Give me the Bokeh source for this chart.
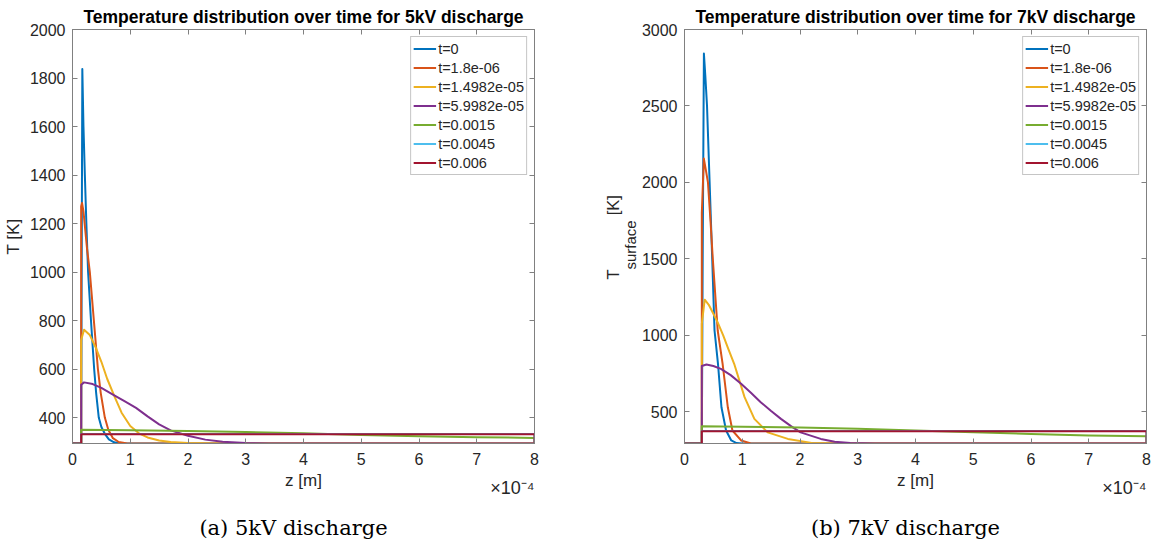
from bokeh.plotting import figure
from bokeh.models import Range1d, LinearAxis, FixedTicker, Legend, LegendItem, Title
from bokeh.layouts import row
from bokeh.embed import file_html
from bokeh.resources import INLINE

# z in units of 1e-4 m (axis shows x10^-4)
legend_labels = ["t=0", "t=1.8e-06", "t=1.4982e-05", "t=5.9982e-05", "t=0.0015", "t=0.0045", "t=0.006"]
colors = ["#0072BD", "#D95319", "#EDB120", "#7E2F8E", "#77AC30", "#4DBEEE", "#A2142F"]

x_ticks = [0, 1, 2, 3, 4, 5, 6, 7, 8]
y_ticks_5kv = [400, 600, 800, 1000, 1200, 1400, 1600, 1800, 2000]
y_ticks_7kv = [500, 1000, 1500, 2000, 2500, 3000]

# ---- 5 kV discharge ----
z5_t0 = [0, 0.15, 0.16, 0.17, 0.19, 0.214, 0.24, 0.27, 0.32, 0.375, 0.41, 0.455, 0.5, 0.56, 0.63, 0.72, 0.8, 0.9, 8]
T5_t0 = [293, 293, 1100, 1837, 1600, 1400, 1200, 1000, 800, 600, 500, 400, 361, 333, 310, 298, 294, 293, 293]
z5_t1 = [0, 0.15, 0.15, 0.165, 0.19, 0.21, 0.25, 0.30, 0.37, 0.44, 0.49, 0.56, 0.62, 0.70, 0.80, 0.95, 8]
T5_t1 = [293, 293, 1270, 1285, 1250, 1200, 1100, 1000, 800, 600, 500, 400, 350, 315, 299, 293, 293]
z5_t2 = [0, 0.15, 0.15, 0.2, 0.3, 0.4, 0.5, 0.6, 0.73, 0.85, 1.0, 1.15, 1.3, 1.5, 1.7, 2.0, 2.4, 8]
T5_t2 = [293, 293, 720, 762, 740, 690, 630, 560, 485, 420, 365, 335, 318, 305, 299, 295, 293, 293]
z5_t3 = [0, 0.15, 0.15, 0.2, 0.35, 0.5, 0.7, 0.9, 1.1, 1.3, 1.5, 1.7, 2.0, 2.3, 2.6, 3.0, 3.4, 8]
T5_t3 = [293, 293, 535, 545, 538, 522, 495, 468, 440, 405, 372, 347, 325, 309, 300, 295, 293, 293]
z5_t4 = [0, 0.15, 0.15, 1, 2, 3, 4, 5, 6, 7, 8, 8]
T5_t4 = [293, 293, 350, 348, 345, 340, 335, 328, 323, 319, 316, 293]
z5_t5 = [0, 0.15, 0.15, 8, 8]
T5_t5 = [293, 293, 332, 332, 293]
z5_t6 = [0, 0.15, 0.15, 8, 8]
T5_t6 = [293, 293, 331, 331, 293]

# ---- 7 kV discharge ----
z7_t0 = [0, 0.30, 0.315, 0.336, 0.36, 0.39, 0.435, 0.48, 0.52, 0.58, 0.64, 0.72, 0.81, 0.9, 1.0, 8]
T7_t0 = [293, 293, 1500, 2843, 2700, 2500, 2000, 1500, 1032, 814, 530, 378, 313, 296, 293, 293]
z7_t1 = [0, 0.30, 0.30, 0.335, 0.37, 0.406, 0.45, 0.49, 0.575, 0.66, 0.75, 0.83, 0.98, 1.15, 8]
T7_t1 = [293, 293, 1800, 2156, 2080, 2000, 1750, 1500, 1032, 814, 530, 378, 313, 293, 293]
z7_t2 = [0, 0.30, 0.30, 0.35, 0.42, 0.5, 0.58, 0.67, 0.76, 0.86, 1.04, 1.21, 1.44, 1.79, 2.2, 2.6, 8]
T7_t2 = [293, 293, 1076, 1233, 1200, 1141, 1080, 1000, 910, 814, 596, 454, 366, 323, 297, 293, 293]
z7_t3 = [0, 0.30, 0.30, 0.38, 0.5, 0.63, 0.8, 0.98, 1.15, 1.32, 1.5, 1.67, 1.85, 2.01, 2.36, 2.6, 2.87, 3.3, 8]
T7_t3 = [293, 293, 800, 810, 800, 781, 740, 683, 625, 563, 505, 454, 405, 366, 323, 305, 297, 293, 293]
z7_t4 = [0, 0.30, 0.30, 1, 2, 3, 4, 5, 6, 7, 8, 8]
T7_t4 = [293, 293, 405, 403, 397, 389, 378, 367, 355, 346, 340, 293]
z7_t5 = [0, 0.30, 0.30, 8, 8]
T7_t5 = [293, 293, 374, 374, 293]
z7_t6 = [0, 0.30, 0.30, 8, 8]
T7_t6 = [293, 293, 373, 373, 293]

series_5kv = [(z5_t0, T5_t0), (z5_t1, T5_t1), (z5_t2, T5_t2), (z5_t3, T5_t3),
              (z5_t4, T5_t4), (z5_t5, T5_t5), (z5_t6, T5_t6)]
series_7kv = [(z7_t0, T7_t0), (z7_t1, T7_t1), (z7_t2, T7_t2), (z7_t3, T7_t3),
              (z7_t4, T7_t4), (z7_t5, T7_t5), (z7_t6, T7_t6)]

FONT = "Liberation Sans"
TXT = "#262626"
AX = "#808080"
NB = "\u00a0"


def panel(series, ymax, yticks, title, caption, bl, br):
    p = figure(frame_width=462, frame_height=414, min_border_left=bl, min_border_right=br,
               min_border_top=29, min_border_bottom=102,
               x_range=Range1d(0, 8), y_range=Range1d(293, ymax),
               output_backend="svg", toolbar_location=None)
    p.xgrid.visible = False
    p.ygrid.visible = False
    p.outline_line_color = AX
    p.background_fill_color = "white"
    p.border_fill_color = "white"
    for ax in (p.xaxis[0], p.yaxis[0]):
        ax.major_tick_in = 5
        ax.major_tick_out = 0
        ax.minor_tick_in = 0
        ax.minor_tick_out = 0
        ax.axis_line_color = AX
        ax.major_tick_line_color = AX
        ax.major_label_text_font = FONT
        ax.major_label_text_font_size = "16px"
        ax.major_label_text_color = TXT
        ax.axis_label_text_font = FONT
        ax.axis_label_text_font_size = "17px"
        ax.axis_label_text_font_style = "normal"
        ax.axis_label_text_color = TXT
    p.xaxis[0].ticker = FixedTicker(ticks=x_ticks)
    p.yaxis[0].ticker = FixedTicker(ticks=yticks)
    p.xaxis[0].major_label_standoff = 9
    p.yaxis[0].major_label_standoff = 7
    p.xaxis[0].axis_label = "z [m]"
    p.xaxis[0].axis_label_standoff = 3
    for loc, tk in (("above", x_ticks), ("right", yticks)):
        a = LinearAxis(ticker=FixedTicker(ticks=tk), major_tick_in=5, major_tick_out=0,
                       minor_tick_in=0, minor_tick_out=0, axis_line_color=AX,
                       major_tick_line_color=AX, major_label_text_font_size="0px",
                       major_label_text_color=None, major_label_standoff=0)
        p.add_layout(a, loc)
    items = []
    for (z, T), c, l in zip(series, colors, legend_labels):
        r = p.line(z, T, line_color=c, line_width=2, line_join="round")
        items.append(LegendItem(label=l, renderers=[r]))
    leg = Legend(items=items, location="top_right", margin=7, padding=2, spacing=0,
                 label_height=19, glyph_height=19, glyph_width=23, label_standoff=2,
                 label_text_font=FONT, label_text_font_size="14.5px", label_text_color=TXT,
                 border_line_color="#8c8c8c", background_fill_alpha=1.0)
    p.add_layout(leg)
    p.title.text = title
    p.title.align = "center"
    p.title.text_font = FONT
    p.title.text_font_size = "17.5px"
    p.title.text_font_style = "bold"
    p.title.text_color = "black"
    p.title.standoff = 5
    p.add_layout(Title(text="\u00d710\u207b\u2074", align="right", offset=0, text_font=FONT,
                       text_font_size="18px", text_font_style="normal", text_color=TXT,
                       vertical_align="top", standoff=-30), "below")
    cap = LinearAxis(ticker=FixedTicker(ticks=[]), axis_line_color=None, major_tick_line_color=None,
                     minor_tick_line_color=None, major_tick_in=0, major_tick_out=0,
                     minor_tick_in=0, minor_tick_out=0, major_label_standoff=0,
                     major_label_text_font_size="0px", major_label_text_color=None,
                     axis_label=caption + NB * 3, axis_label_standoff=23,
                     axis_label_text_font="DejaVu Serif", axis_label_text_font_size="21px",
                     axis_label_text_font_style="normal", axis_label_text_color="black")
    p.add_layout(cap, "below")
    return p


p1 = panel(series_5kv, 2000, y_ticks_5kv,
           "Temperature distribution over time for 5kV discharge", "(a) 5kV discharge", 72, 43)
p1.yaxis[0].axis_label = "T [K]"
p1.yaxis[0].axis_label_standoff = 4

p2 = panel(series_7kv, 3000, y_ticks_7kv,
           "Temperature distribution over time for 7kV discharge", "(b) 7kV discharge", 107, 8)
p2.add_layout(Title(text="surface", align="left", offset=174, text_font=FONT,
                    text_font_size="15px", text_font_style="normal", text_color=TXT,
                    vertical_align="bottom", standoff=0), "left")
p2.add_layout(Title(text="T\u2003\u2003\u2003 [K]", align="left", offset=164, text_font=FONT,
                    text_font_size="16.5px", text_font_style="normal", text_color=TXT,
                    vertical_align="bottom", standoff=-4), "left")

layout = row(p1, p2)
open("out.html", "w").write(file_html(layout, INLINE))
